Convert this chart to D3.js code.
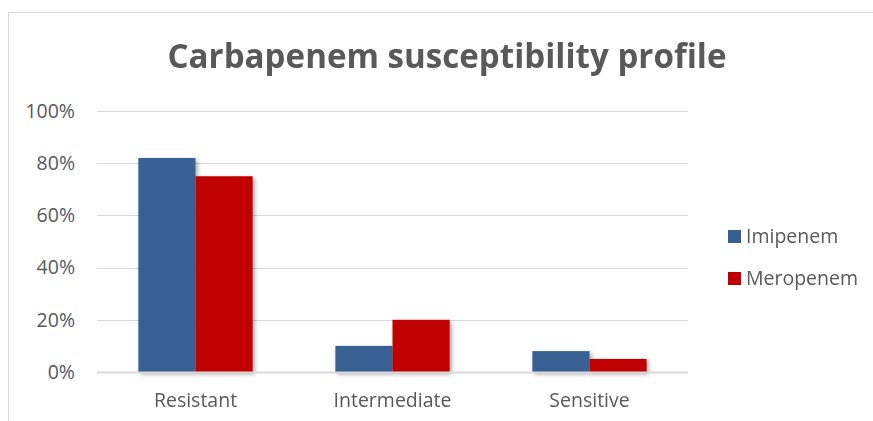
<!DOCTYPE html>
<html><head><meta charset="utf-8">
<script src="https://cdn.jsdelivr.net/npm/d3@7"></script>
<style>body{margin:0;background:#fff}svg{display:block}text{font-family:"Open Sans",sans-serif;fill:#595959}</style>
</head><body><svg id="c" width="873" height="421"></svg>
<script>
const categories = ["Resistant","Intermediate","Sensitive"];
const seriesNames = ["Imipenem","Meropenem"];
const imipenem = [0.82,0.10,0.08];
const meropenem = [0.75,0.20,0.05];
const yTicks = [0,0.2,0.4,0.6,0.8,1.0];
const colors = ["#376092","#C00000"];

const svg = d3.select("#c");
const defs = svg.append("defs");
const f = defs.append("filter").attr("id","sh").attr("x","-20%").attr("y","-20%").attr("width","150%").attr("height","150%");
f.append("feDropShadow").attr("dx",2).attr("dy",2).attr("stdDeviation",2).attr("flood-color","#000").attr("flood-opacity",0.35);

svg.append("rect").attr("x",8.5).attr("y",12.5).attr("width",900).attr("height",420)
  .attr("fill","none").attr("stroke","#d9d9d9");

const x0 = d3.scaleBand().domain(categories).range([97,688]).paddingInner(0.42).paddingOuter(0.21);
const x1 = d3.scaleBand().domain(seriesNames).range([0,x0.bandwidth()]);
const y = d3.scaleLinear().domain([0,1]).range([372,111]);

const grid = svg.append("g");
grid.selectAll("line").data(yTicks.filter(d=>d>0)).join("line")
  .attr("x1",97).attr("x2",688).attr("y1",d=>Math.round(y(d))+0.5).attr("y2",d=>Math.round(y(d))+0.5)
  .attr("stroke","#d9d9d9").attr("stroke-width",1);

const yAxis = svg.append("g").attr("transform","translate(97,0)")
  .call(d3.axisLeft(y).tickValues(yTicks).tickFormat(d3.format(".0%")).tickSize(0).tickPadding(22));
yAxis.select(".domain").remove();
yAxis.selectAll("text").attr("font-size",19.5).attr("font-family","Open Sans").attr("fill","#595959");

const data = categories.map((c,i)=>({cat:c, vals:[imipenem[i],meropenem[i]]}));
const g = svg.append("g").attr("filter","url(#sh)");
g.selectAll("g").data(data).join("g").attr("transform",d=>`translate(${x0(d.cat)},0)`)
  .selectAll("rect").data(d=>d.vals.map((v,k)=>({s:seriesNames[k],v,k}))).join("rect")
  .attr("x",d=>x1(d.s)).attr("width",x1.bandwidth())
  .attr("y",d=>y(d.v)).attr("height",d=>y(0)-y(d.v)).attr("fill",d=>colors[d.k]);

svg.append("line").attr("x1",97).attr("x2",688).attr("y1",372.5).attr("y2",372.5)
  .attr("stroke","#d9d9d9").attr("stroke-width",2);

const xAxis = svg.append("g").attr("transform","translate(0,372)")
  .call(d3.axisBottom(x0).tickSize(0).tickPadding(21));
xAxis.select(".domain").remove();
xAxis.selectAll("text").attr("font-size",19.5).attr("font-family","Open Sans").attr("fill","#595959");

svg.append("text").attr("x",447).attr("y",68).attr("text-anchor","middle")
  .attr("font-size",34).attr("font-weight","bold").attr("fill","#595959")
  .attr("textLength",559).attr("lengthAdjust","spacingAndGlyphs")
  .text("Carbapenem susceptibility profile");

const leg = svg.append("g");
seriesNames.forEach((s,i)=>{
  const yy = 230 + i*42;
  leg.append("rect").attr("x",728).attr("y",yy).attr("width",13).attr("height",13).attr("fill",colors[i]);
  leg.append("text").attr("x",746).attr("y",yy+13).attr("font-size",19.5).attr("fill","#595959").text(s);
});
</script></body></html>
